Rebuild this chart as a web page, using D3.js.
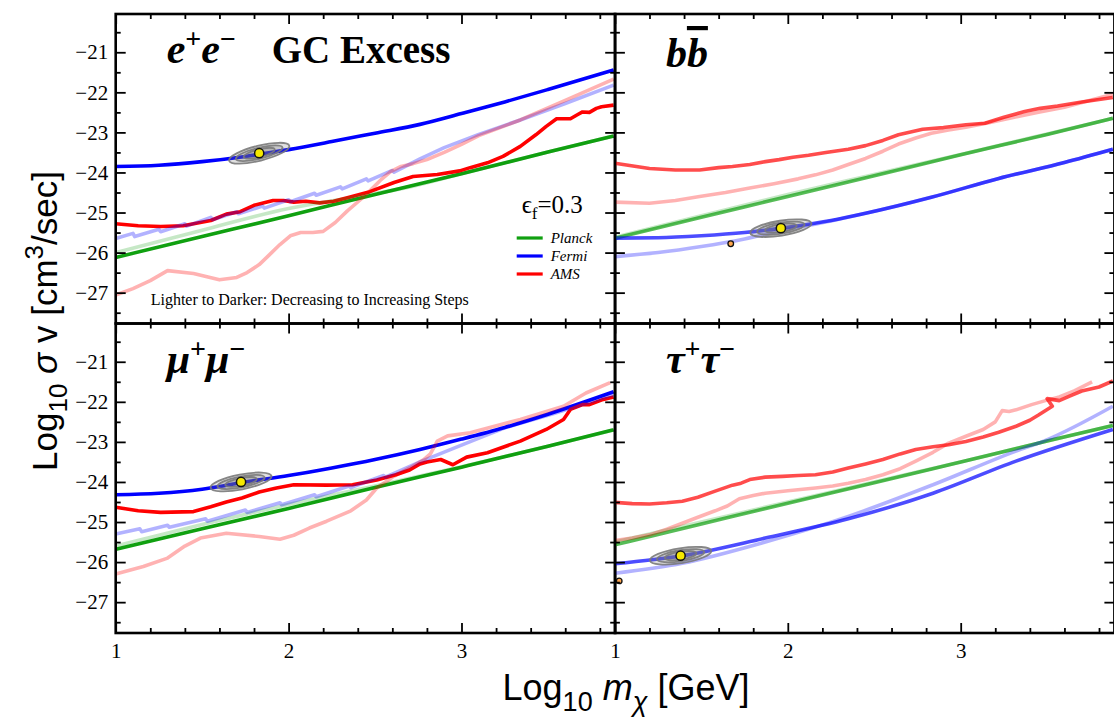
<!DOCTYPE html>
<html>
<head>
<meta charset="utf-8">
<script src="https://cdn.jsdelivr.net/npm/d3@7/dist/d3.min.js"></script>
<style>
	body { margin: 0; background: #fff; }
	svg { display: block; }
</style>
</head>
<body>
<svg id="chart" width="1114" height="720"></svg>
<script>
(function() {
	'use strict';

	// ---- data: [log10 m (GeV), log10 sigma v (cm^3/s)] ----
	var xMajorTicks = [1, 2, 3];
	var xMinorTicks = [1.2, 1.4, 1.6, 1.8, 2.2, 2.4, 2.6, 2.8, 3.2, 3.4, 3.6, 3.8];
	var yMajorTicks = [-21, -22, -23, -24, -25, -26, -27];
	var yMinorTicks = [-20.5, -21.5, -22.5, -23.5, -24.5, -25.5, -26.5, -27.5];

	var legendLabels = ['Planck', 'Fermi', 'AMS'];

	// e+e-
	var eePlanck = [[1, -26.12], [1.5, -25.6], [2, -25.08], [2.5, -24.55], [3, -24.03], [3.5, -23.49], [3.88, -23.09]];
	var eePlanckLight = [[1, -26.0], [1.5, -25.44], [2, -24.9], [2.4, -24.6], [2.7, -24.36], [3, -24.03], [3.5, -23.49], [3.88, -23.09]];
	var eeFermi = [[1, -23.85], [1.25, -23.82], [1.5, -23.73], [1.75, -23.6], [2, -23.43], [2.25, -23.23], [2.5, -23.02], [2.76, -22.8], [3, -22.53], [3.25, -22.24], [3.5, -21.93], [3.88, -21.44]];
	var eeFermiLight = [[1, -25.65], [1.1, -25.52], [1.11, -25.6], [1.25, -25.42], [1.26, -25.48], [1.4, -25.28], [1.41, -25.34], [1.55, -25.12], [1.56, -25.18], [1.7, -24.98], [1.71, -25.03], [1.85, -24.84], [1.86, -24.89], [2, -24.68], [2.01, -24.73], [2.15, -24.52], [2.16, -24.57], [2.3, -24.36], [2.31, -24.41], [2.45, -24.16], [2.46, -24.21], [2.6, -23.95], [2.61, -23.99], [2.76, -23.66], [2.9, -23.38], [3.1, -23.05], [3.34, -22.69], [3.6, -22.28], [3.88, -21.82]];
	var eeAms = [[1, -25.28], [1.13, -25.33], [1.26, -25.35], [1.39, -25.33], [1.55, -25.2], [1.64, -25.04], [1.72, -24.98], [1.8, -24.82], [1.91, -24.7], [1.97, -24.7], [2.03, -24.74], [2.1, -24.72], [2.18, -24.76], [2.26, -24.72], [2.34, -24.63], [2.47, -24.48], [2.61, -24.25], [2.72, -24.1], [2.86, -24.05], [2.99, -23.96], [3.05, -23.88], [3.15, -23.76], [3.24, -23.6], [3.34, -23.35], [3.43, -23.06], [3.49, -22.85], [3.55, -22.66], [3.63, -22.66], [3.67, -22.56], [3.7, -22.49], [3.74, -22.5], [3.78, -22.4], [3.81, -22.36], [3.88, -22.32]];
	var eeAmsLight = [[1, -27.06], [1.1, -26.9], [1.2, -26.7], [1.3, -26.45], [1.45, -26.52], [1.6, -26.68], [1.7, -26.62], [1.76, -26.5], [1.83, -26.3], [1.89, -26.05], [1.95, -25.8], [2.01, -25.58], [2.07, -25.5], [2.14, -25.5], [2.2, -25.47], [2.27, -25.25], [2.34, -24.96], [2.41, -24.7], [2.47, -24.46], [2.53, -24.2], [2.59, -23.98], [2.65, -23.85], [2.72, -23.78], [2.8, -23.68], [2.9, -23.5], [3, -23.3], [3.1, -23.08], [3.34, -22.69], [3.6, -22.2], [3.88, -21.67]];
	var eeBestFit = [1.83, -23.52];

	// b bbar
	var bbPlanck = [[1, -25.64], [1.5, -25.12], [2, -24.6], [2.5, -24.08], [3, -23.56], [3.5, -23.05], [3.88, -22.65]];
	var bbPlanckLight = [[1, -25.62], [1.5, -25.08], [2, -24.55], [2.5, -24.05], [3, -23.55], [3.5, -23.04], [3.88, -22.65]];
	var bbFermi = [[1, -25.64], [1.25, -25.63], [1.5, -25.58], [1.75, -25.5], [2, -25.37], [2.25, -25.2], [2.45, -25.02], [2.83, -24.62], [3.22, -24.15], [3.6, -23.75], [3.88, -23.42]];
	var bbFermiLight = [[1, -26.1], [1.25, -26.0], [1.5, -25.85], [1.75, -25.66], [2, -25.42], [2.25, -25.21], [2.45, -25.02], [2.83, -24.62], [3.22, -24.15], [3.6, -23.75], [3.88, -23.42]];
	var bbAms = [[1, -23.77], [1.2, -23.9], [1.35, -23.94], [1.49, -23.94], [1.6, -23.88], [1.68, -23.85], [1.78, -23.8], [1.87, -23.73], [1.95, -23.68], [2.03, -23.62], [2.12, -23.57], [2.22, -23.5], [2.35, -23.42], [2.45, -23.33], [2.55, -23.2], [2.64, -23.06], [2.78, -22.92], [2.9, -22.88], [3.03, -22.81], [3.14, -22.77], [3.25, -22.62], [3.37, -22.48], [3.46, -22.4], [3.56, -22.34], [3.7, -22.24], [3.88, -22.13]];
	var bbAmsLight = [[1, -24.74], [1.2, -24.77], [1.35, -24.7], [1.49, -24.6], [1.64, -24.5], [1.78, -24.39], [1.92, -24.28], [2.06, -24.16], [2.16, -24.06], [2.26, -23.94], [2.35, -23.8], [2.45, -23.65], [2.55, -23.47], [2.64, -23.29], [2.74, -23.14], [2.83, -23.02], [2.93, -22.94], [3.03, -22.87], [3.17, -22.75], [3.31, -22.62], [3.45, -22.5], [3.6, -22.37], [3.75, -22.2], [3.88, -22.05]];
	var bbBestFit = [1.96, -25.39];
	var bbAltPoint = [1.67, -25.78];

	// mu+mu-
	var mumuPlanck = [[1, -25.68], [1.5, -25.17], [2, -24.66], [2.5, -24.14], [3, -23.63], [3.5, -23.11], [3.88, -22.7]];
	var mumuPlanckLight = [[1, -25.6], [1.5, -25.06], [2, -24.56], [2.5, -24.1], [3, -23.62], [3.5, -23.11], [3.88, -22.7]];
	var mumuFermi = [[1, -24.32], [1.25, -24.28], [1.5, -24.18], [1.75, -24.0], [2, -23.84], [2.25, -23.65], [2.5, -23.44], [2.76, -23.19], [3, -22.93], [3.25, -22.64], [3.5, -22.31], [3.88, -21.75]];
	var mumuFermiLight = [[1, -25.3], [1.14, -25.17], [1.15, -25.24], [1.3, -25.08], [1.31, -25.13], [1.52, -24.92], [1.53, -24.98], [1.75, -24.7], [1.76, -24.76], [1.95, -24.52], [1.96, -24.57], [2.15, -24.32], [2.16, -24.37], [2.35, -24.1], [2.36, -24.14], [2.55, -23.84], [2.56, -23.88], [2.76, -23.5], [3, -23.08], [3.25, -22.65], [3.53, -22.3], [3.88, -21.82]];
	var mumuAms = [[1, -24.63], [1.13, -24.72], [1.26, -24.76], [1.45, -24.74], [1.55, -24.62], [1.64, -24.5], [1.73, -24.4], [1.83, -24.25], [1.93, -24.15], [2.03, -24.07], [2.22, -24.08], [2.37, -24.07], [2.51, -23.95], [2.62, -23.82], [2.7, -23.7], [2.76, -23.55], [2.8, -23.5], [2.88, -23.44], [2.95, -23.57], [3.03, -23.38], [3.15, -23.27], [3.34, -22.98], [3.49, -22.69], [3.59, -22.44], [3.63, -22.19], [3.7, -22.07], [3.74, -22.07], [3.82, -21.94], [3.88, -21.88]];
	var mumuAmsLight = [[1, -26.3], [1.16, -26.11], [1.3, -25.9], [1.4, -25.6], [1.49, -25.4], [1.64, -25.28], [1.83, -25.36], [1.95, -25.43], [2.03, -25.33], [2.12, -25.15], [2.22, -24.98], [2.36, -24.72], [2.45, -24.45], [2.51, -24.15], [2.6, -23.88], [2.7, -23.65], [2.78, -23.45], [2.82, -23.3], [2.86, -22.98], [2.92, -22.85], [3.05, -22.77], [3.34, -22.44], [3.59, -22.11], [3.72, -21.78], [3.86, -21.52]];
	var mumuBestFit = [1.725, -24.0];

	// tau+tau-
	var tautauPlanck = [[1, -25.57], [1.5, -25.05], [2, -24.53], [2.5, -24.02], [3, -23.5], [3.5, -22.98], [3.88, -22.59]];
	var tautauPlanckLight = [[1, -25.5], [1.5, -25.0], [2, -24.5], [2.5, -24.0], [3, -23.5], [3.5, -22.98], [3.88, -22.59]];
	var tautauFermi = [[1, -26.04], [1.39, -25.84], [1.87, -25.4], [2.35, -24.92], [2.84, -24.28], [3.32, -23.48], [3.88, -22.69]];
	var tautauFermiLight = [[1, -26.28], [1.39, -26.03], [1.87, -25.5], [2.35, -24.86], [2.84, -24.07], [3.32, -23.23], [3.48, -22.98], [3.88, -22.11]];
	var tautauAms = [[1, -24.51], [1.1, -24.54], [1.2, -24.55], [1.3, -24.52], [1.39, -24.48], [1.48, -24.38], [1.58, -24.23], [1.68, -24.08], [1.73, -24.03], [1.78, -23.94], [1.87, -23.88], [1.97, -23.86], [2.06, -23.84], [2.16, -23.82], [2.26, -23.75], [2.35, -23.65], [2.45, -23.55], [2.55, -23.44], [2.65, -23.3], [2.74, -23.19], [2.84, -23.12], [2.93, -23.07], [3.03, -22.99], [3.13, -22.88], [3.22, -22.76], [3.32, -22.61], [3.4, -22.46], [3.45, -22.33], [3.53, -22.11], [3.5, -21.92], [3.57, -21.97], [3.63, -21.86], [3.7, -21.73], [3.8, -21.63], [3.88, -21.48]];
	var tautauAmsLight = [[1, -25.46], [1.1, -25.4], [1.2, -25.32], [1.3, -25.18], [1.39, -25.03], [1.48, -24.88], [1.58, -24.72], [1.65, -24.6], [1.72, -24.42], [1.8, -24.34], [1.87, -24.28], [2, -24.22], [2.16, -24.15], [2.26, -24.1], [2.35, -24.03], [2.45, -23.94], [2.55, -23.82], [2.65, -23.67], [2.74, -23.48], [2.84, -23.26], [2.93, -23.03], [3.03, -22.86], [3.13, -22.69], [3.2, -22.5], [3.24, -22.22], [3.28, -22.24], [3.32, -22.2], [3.41, -22.07], [3.49, -21.97], [3.57, -21.88], [3.66, -21.72], [3.76, -21.5]];
	var tautauBestFit = [1.38, -25.84];
	var tautauAltPoint = [1.025, -26.47];

	// ---- layout & style ----
	var LEFT = 115.7;
	var TOP = 14;
	var PANEL_W = 499.5;
	var PANEL_H = 309.5;
	var X_DOMAIN = [1, 3.889];
	var Y_DOMAIN = [-27.77, -20.045];

	var GREEN = '#10a010';
	var BLUE = '#0000ff';
	var RED = '#ff0000';
	var LIGHT_OPACITY = 0.3;
	var LINE_WIDTH = 3.6;
	var SERIF = '"Liberation Serif", "Times New Roman", "DejaVu Serif", serif';
	var SANS = '"Liberation Sans", Arial, "DejaVu Sans", sans-serif';
	var ELLIPSE_RINGS = [[31, 7.5], [24, 5.5], [16, 4]];

	var panels = [
		{ id: 'ee', col: 0, row: 0, darkOpacity: 1, tilt: -14,
			planck: eePlanck, planckLight: eePlanckLight, fermi: eeFermi, fermiLight: eeFermiLight,
			ams: eeAms, amsLight: eeAmsLight, fit: eeBestFit, alt: null },
		{ id: 'bb', col: 1, row: 0, darkOpacity: 0.7, tilt: -9,
			planck: bbPlanck, planckLight: bbPlanckLight, fermi: bbFermi, fermiLight: bbFermiLight,
			ams: bbAms, amsLight: bbAmsLight, fit: bbBestFit, alt: bbAltPoint },
		{ id: 'mumu', col: 0, row: 1, darkOpacity: 1, tilt: -11,
			planck: mumuPlanck, planckLight: mumuPlanckLight, fermi: mumuFermi, fermiLight: mumuFermiLight,
			ams: mumuAms, amsLight: mumuAmsLight, fit: mumuBestFit, alt: null },
		{ id: 'tautau', col: 1, row: 1, darkOpacity: 0.7, tilt: -9,
			planck: tautauPlanck, planckLight: tautauPlanckLight, fermi: tautauFermi, fermiLight: tautauFermiLight,
			ams: tautauAms, amsLight: tautauAmsLight, fit: tautauBestFit, alt: tautauAltPoint }
	];

	var svg = d3.select('#chart');

	function styleAxis(sel) {
		sel.attr('font-family', null).attr('font-size', null);
		sel.select('.domain').remove();
		sel.selectAll('.tick line').attr('stroke', '#000').attr('stroke-width', 1.8);
		sel.selectAll('.tick text')
			.attr('fill', '#000')
			.style('font-family', SERIF)
			.style('font-size', '21px');
	}

	function drawTitle(g, id) {
		var t = g.append('text')
			.attr('x', 51)
			.attr('y', id === 'bb' ? 53 : 49)
			.style('font-family', SERIF)
			.style('font-weight', 'bold')
			.style('font-style', 'italic')
			.style('font-size', '42px');
		var base, sup = ['+', '\u2212'];
		if (id === 'ee') base = 'e';
		if (id === 'mumu') base = '\u03bc';
		if (id === 'tautau') base = '\u03c4';
		if (id === 'bb') {
			t.append('tspan').text('b');
			t.append('tspan').text('b').style('text-decoration', 'overline');
			return;
		}
		sup.forEach(function(s, i) {
			t.append('tspan').attr('dy', i === 0 ? 0 : 15).text(base);
			t.append('tspan').attr('dy', -15).style('font-size', '28px').style('font-style', 'normal').text(s);
		});
		if (id === 'ee') {
			g.append('text')
				.attr('x', 156)
				.attr('y', 49)
				.style('font-family', SERIF)
				.style('font-weight', 'bold')
				.style('font-size', '39px')
				.text('GC Excess');
		}
	}

	function drawLegend(g) {
		var eps = g.append('text')
			.attr('x', 406)
			.attr('y', 199)
			.style('font-family', SERIF)
			.style('font-size', '25px');
		eps.append('tspan').text('\u03f5');
		eps.append('tspan').attr('dy', 6).style('font-size', '17px').text('f');
		eps.append('tspan').attr('dy', -6).text('=0.3');

		var colors = [GREEN, BLUE, RED];
		var row = d3.scaleBand().domain(legendLabels).range([215, 269]);
		legendLabels.forEach(function(name, i) {
			var yy = row(name) + row.bandwidth() / 2;
			g.append('line')
				.attr('x1', 401).attr('x2', 427)
				.attr('y1', yy).attr('y2', yy)
				.attr('stroke', colors[i])
				.attr('stroke-width', 3.2);
			g.append('text')
				.attr('x', 435)
				.attr('y', yy + 4.5)
				.style('font-family', SERIF)
				.style('font-style', 'italic')
				.style('font-size', '15px')
				.text(name);
		});

		g.append('text')
			.attr('x', 35)
			.attr('y', 291)
			.style('font-family', SERIF)
			.style('font-size', '16px')
			.text('Lighter to Darker: Decreasing to Increasing Steps');
	}

	panels.forEach(function(p) {
		var x0 = LEFT + p.col * (PANEL_W - 0.3);
		var y0 = TOP + p.row * PANEL_H;
		var g = svg.append('g').attr('transform', 'translate(' + x0 + ',' + y0 + ')');

		var x = d3.scaleLinear().domain(X_DOMAIN).range([0, PANEL_W]);
		var y = d3.scaleLinear().domain(Y_DOMAIN).range([PANEL_H, 0]);

		var clipId = 'clip-' + p.id;
		g.append('clipPath').attr('id', clipId)
			.append('rect').attr('width', PANEL_W).attr('height', PANEL_H);

		var plot = g.append('g').attr('clip-path', 'url(#' + clipId + ')');

		var smooth = d3.line().x(function(d) { return x(d[0]); }).y(function(d) { return y(d[1]); }).curve(d3.curveMonotoneX);
		var rough = d3.line().x(function(d) { return x(d[0]); }).y(function(d) { return y(d[1]); });

		var series = [
			{ data: p.planck, color: GREEN, op: p.darkOpacity, gen: smooth },
			{ data: p.fermi, color: BLUE, op: p.darkOpacity, gen: smooth },
			{ data: p.ams, color: RED, op: p.darkOpacity, gen: rough },
			{ data: p.planckLight, color: GREEN, op: LIGHT_OPACITY * 0.8, gen: smooth },
			{ data: p.fermiLight, color: BLUE, op: LIGHT_OPACITY, gen: p.col === 0 ? rough : smooth },
			{ data: p.amsLight, color: RED, op: LIGHT_OPACITY, gen: rough }
		];

		plot.selectAll('path.series')
			.data(series)
			.enter().append('path')
			.attr('class', 'series')
			.attr('d', function(s) { return s.gen(s.data); })
			.attr('fill', 'none')
			.attr('stroke', function(s) { return s.color; })
			.attr('stroke-opacity', function(s) { return s.op; })
			.attr('stroke-width', LINE_WIDTH)
			.attr('stroke-linejoin', 'round');

		// best-fit contours + point
		var fit = plot.append('g')
			.attr('transform', 'translate(' + x(p.fit[0]) + ',' + y(p.fit[1]) + ') rotate(' + p.tilt + ')');
		fit.selectAll('ellipse')
			.data(ELLIPSE_RINGS)
			.enter().append('ellipse')
			.attr('rx', function(d) { return d[0]; })
			.attr('ry', function(d) { return d[1]; })
			.attr('fill', '#707070')
			.attr('fill-opacity', 0.22)
			.attr('stroke', '#7a7a7a')
			.attr('stroke-opacity', 0.9)
			.attr('stroke-width', 1.8);
		plot.append('circle')
			.attr('cx', x(p.fit[0]))
			.attr('cy', y(p.fit[1]))
			.attr('r', 4.6)
			.attr('fill', '#f5e800')
			.attr('stroke', '#111')
			.attr('stroke-width', 1.5);

		if (p.alt) {
			g.append('circle')
				.attr('cx', x(p.alt[0]))
				.attr('cy', y(p.alt[1]))
				.attr('r', 2.8)
				.attr('fill', '#ffa64d')
				.attr('stroke', '#111')
				.attr('stroke-width', 1.3);
		}

		// axes: ticks point inward on all four sides
		var showX = p.row === 1;
		var showY = p.col === 0;

		g.append('g').attr('transform', 'translate(0,' + PANEL_H + ')')
			.call(d3.axisBottom(x).tickValues(xMajorTicks).tickSize(-10).tickPadding(10)
				.tickFormat(showX ? d3.format('d') : ''))
			.call(styleAxis);
		g.append('g').attr('transform', 'translate(0,' + PANEL_H + ')')
			.call(d3.axisBottom(x).tickValues(xMinorTicks).tickSize(-5).tickFormat(''))
			.call(styleAxis);
		g.append('g')
			.call(d3.axisTop(x).tickValues(xMajorTicks).tickSize(-10).tickFormat(''))
			.call(styleAxis);
		g.append('g')
			.call(d3.axisTop(x).tickValues(xMinorTicks).tickSize(-5).tickFormat(''))
			.call(styleAxis);

		g.append('g')
			.call(d3.axisLeft(y).tickValues(yMajorTicks).tickSize(-10).tickPadding(7.5)
				.tickFormat(showY ? d3.format('d') : ''))
			.call(styleAxis);
		g.append('g')
			.call(d3.axisLeft(y).tickValues(yMinorTicks).tickSize(-5).tickFormat(''))
			.call(styleAxis);
		g.append('g').attr('transform', 'translate(' + PANEL_W + ',0)')
			.call(d3.axisRight(y).tickValues(yMajorTicks).tickSize(-10).tickFormat(''))
			.call(styleAxis);
		g.append('g').attr('transform', 'translate(' + PANEL_W + ',0)')
			.call(d3.axisRight(y).tickValues(yMinorTicks).tickSize(-5).tickFormat(''))
			.call(styleAxis);

		g.append('rect')
			.attr('width', PANEL_W)
			.attr('height', PANEL_H)
			.attr('fill', 'none')
			.attr('stroke', '#000')
			.attr('stroke-width', 2.6);

		drawTitle(g, p.id);
		if (p.id === 'ee') drawLegend(g);
	});

	// axis titles
	var yTitle = svg.append('text')
		.attr('transform', 'translate(57,321) rotate(-90)')
		.attr('text-anchor', 'middle')
		.style('font-family', SANS)
		.style('font-size', '35px');
	yTitle.append('tspan').text('Log');
	yTitle.append('tspan').attr('dy', 10).style('font-size', '26px').text('10');
	yTitle.append('tspan').attr('dy', -10).text(' ');
	yTitle.append('tspan').style('font-style', 'italic').text('\u03c3');
	yTitle.append('tspan').text(' v [cm');
	yTitle.append('tspan').attr('dy', -14).style('font-size', '26px').text('3');
	yTitle.append('tspan').attr('dy', 14).text('/sec]');

	var xTitle = svg.append('text')
		.attr('x', 626)
		.attr('y', 700)
		.attr('text-anchor', 'middle')
		.style('font-family', SANS)
		.style('font-size', '36px');
	xTitle.append('tspan').text('Log');
	xTitle.append('tspan').attr('dy', 11).style('font-size', '27px').text('10');
	xTitle.append('tspan').attr('dy', -11).text(' ');
	xTitle.append('tspan').style('font-style', 'italic').text('m');
	xTitle.append('tspan').attr('dy', 11).style('font-size', '27px').style('font-style', 'italic').text('\u03c7');
	xTitle.append('tspan').attr('dy', -11).text(' [GeV]');
}());
</script>
</body>
</html>
